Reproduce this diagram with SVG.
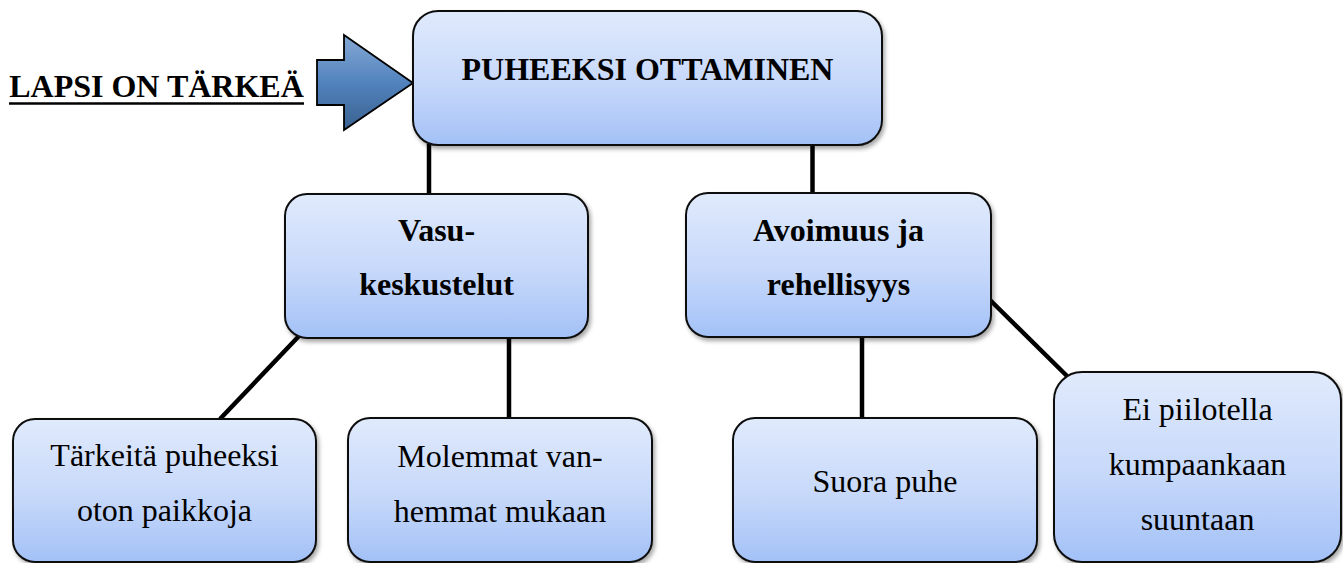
<svg xmlns="http://www.w3.org/2000/svg" width="1343" height="563" viewBox="0 0 1343 563">
<defs>
<linearGradient id="boxGrad" x1="0" y1="0" x2="0" y2="1">
<stop offset="0" stop-color="#e0eafc"/>
<stop offset="0.55" stop-color="#c6d8fa"/>
<stop offset="1" stop-color="#a3c1f7"/>
</linearGradient>
<linearGradient id="arrowGrad" x1="0" y1="0" x2="0" y2="1">
<stop offset="0" stop-color="#86a9d6"/>
<stop offset="0.5" stop-color="#5283bd"/>
<stop offset="1" stop-color="#3a6190"/>
</linearGradient>
<filter id="shadow" x="-10%" y="-10%" width="120%" height="125%">
<feDropShadow dx="2" dy="3" stdDeviation="2" flood-color="#000" flood-opacity="0.35"/>
</filter>
</defs>
<style>
.box{fill:url(#boxGrad);stroke:#111;stroke-width:2;filter:url(#shadow)}
.conn{stroke:#000;stroke-width:4.5;fill:none}
.bold{font-family:"Liberation Serif","Times New Roman",serif;font-weight:bold;font-size:32px;fill:#000;text-anchor:middle}
.reg{font-family:"Liberation Serif","Times New Roman",serif;font-size:32px;fill:#000;text-anchor:middle}
</style>
<rect width="1343" height="563" fill="#fff"/>
<g id="connectors">
<line class="conn" x1="429" y1="144" x2="429" y2="195"/>
<line class="conn" x1="812.5" y1="144" x2="812.5" y2="194"/>
<line class="conn" x1="299" y1="336" x2="220" y2="419"/>
<line class="conn" x1="509" y1="337" x2="509" y2="419"/>
<line class="conn" x1="862" y1="336" x2="862" y2="419"/>
<line class="conn" x1="989" y1="299" x2="1068" y2="377"/>
</g>
<g id="label-lapsi">
<text class="bold" x="156.5" y="97">LAPSI ON TÄRKEÄ</text>
<line x1="9" y1="103.5" x2="304" y2="103.5" stroke="#000" stroke-width="2.5"/>
</g>
<g id="arrow">
<polygon points="317,60 344,60 344,35 413,83 344,130 344,105 317,105" fill="url(#arrowGrad)" stroke="#000" stroke-width="1.8" stroke-linejoin="miter"/>
</g>
<g id="node-puheeksi">
<rect class="box" x="413" y="11" width="469" height="134" rx="25"/>
<text class="bold" x="647.5" y="80">PUHEEKSI OTTAMINEN</text>
</g>
<g id="node-vasu">
<rect class="box" x="285" y="194" width="303" height="144" rx="22"/>
<text class="bold" x="436.5" y="241">Vasu-</text>
<text class="bold" x="436.5" y="295">keskustelut</text>
</g>
<g id="node-avoimuus">
<rect class="box" x="686" y="193" width="305" height="144" rx="22"/>
<text class="bold" x="838.5" y="241">Avoimuus ja</text>
<text class="bold" x="838.5" y="295">rehellisyys</text>
</g>
<g id="node-tarkeita">
<rect class="box" x="13" y="419" width="303" height="143" rx="22"/>
<text class="reg" x="164.5" y="466">Tärkeitä puheeksi</text>
<text class="reg" x="164.5" y="521">oton paikkoja</text>
</g>
<g id="node-molemmat">
<rect class="box" x="348" y="418" width="304" height="144" rx="22"/>
<text class="reg" x="500" y="467">Molemmat van-</text>
<text class="reg" x="500" y="522">hemmat mukaan</text>
</g>
<g id="node-suora">
<rect class="box" x="733" y="418" width="304" height="144" rx="22"/>
<text class="reg" x="885" y="492">Suora puhe</text>
</g>
<g id="node-ei">
<rect class="box" x="1054" y="372" width="287" height="190" rx="28"/>
<text class="reg" x="1197.5" y="420">Ei piilotella</text>
<text class="reg" x="1197.5" y="475">kumpaankaan</text>
<text class="reg" x="1197.5" y="530">suuntaan</text>
</g>
</svg>
